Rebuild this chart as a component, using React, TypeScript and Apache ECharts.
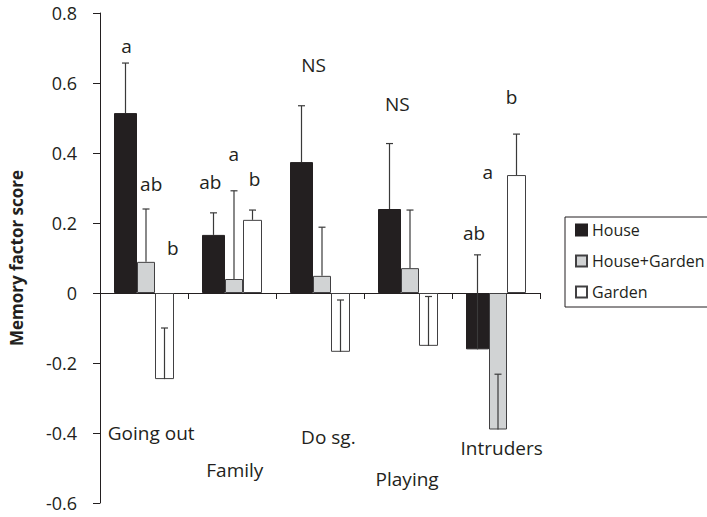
import React, { useEffect, useRef } from "react";
import * as echarts from "echarts";

const categories = ["Going out", "Family", "Do sg.", "Playing", "Intruders"];
const seriesNames = ["House", "House+Garden", "Garden"];
const houseMean = [0.514, 0.166, 0.374, 0.24, -0.161];
const houseGardenMean = [0.089, 0.04, 0.049, 0.071, -0.39];
const gardenMean = [-0.246, 0.209, -0.168, -0.151, 0.337];
const houseSE = [0.143, 0.063, 0.161, 0.187, 0.27];
const houseGardenSE = [0.151, 0.252, 0.139, 0.166, 0.158];
const gardenSE = [0.146, 0.028, 0.148, 0.141, 0.117];

// significance letters: position in category units (0..5) and value units
const sigText = ["a", "ab", "b", "ab", "a", "b", "NS", "NS", "ab", "a", "b"];
const sigX = [0.302, 0.582, 0.828, 1.253, 1.521, 1.756, 2.427, 3.378, 4.25, 4.407, 4.676];
const sigY = [0.705, 0.311, 0.13, 0.317, 0.396, 0.326, 0.651, 0.54, 0.171, 0.345, 0.56];

// category label positions (category units, value units)
const catLabelX = [0.582, 1.532, 2.595, 3.49, 4.564];
const catLabelY = [-0.4, -0.506, -0.411, -0.531, -0.443];

const yTicks = { min: -0.6, max: 0.8, interval: 0.2 };

const FONT = "Open Sans";
const INK = "#231f20";

export default function App() {
  const ref = useRef<HTMLDivElement>(null);
  useEffect(() => {
    if (!ref.current) return;
    const chart = echarts.init(ref.current, undefined, { renderer: "svg" });
    const widths = [23, 18, 19];
    const total = widths.reduce((a, b) => a + b, 0);
    const offsets: number[] = [];
    let acc = -total / 2;
    widths.forEach((w) => {
      offsets.push(acc + w / 2);
      acc += w;
    });
    const means = [houseMean, houseGardenMean, gardenMean];
    const ses = [houseSE, houseGardenSE, gardenSE];
    const fills = [INK, "#d1d3d4", "#ffffff"];
    const borders = [INK, "#414042", "#414042"];

    const barSeries = seriesNames.map((name, i) => ({
      name,
      type: "bar",
      data: means[i],
      barWidth: widths[i],
      barGap: "0%",
      itemStyle: { color: fills[i], borderColor: borders[i], borderWidth: 1 },
      z: 2,
    }));

    const errSeries = seriesNames.map((name, i) => ({
      name: name + " SE",
      type: "custom",
      xAxisIndex: 0,
      yAxisIndex: 0,
      z: 3,
      data: means[i].map((m, k) => [k, m, m + ses[i][k]]),
      renderItem: (params: any, api: any) => {
        const base = api.coord([api.value(0), api.value(1)]);
        const top = api.coord([api.value(0), api.value(2)]);
        const x = base[0] + offsets[i];
        const style = { stroke: "#3a3a3a", lineWidth: 1.2 };
        return {
          type: "group",
          children: [
            { type: "line", shape: { x1: x, y1: base[1], x2: x, y2: top[1] }, style },
            { type: "line", shape: { x1: x - 3.5, y1: top[1], x2: x + 3.5, y2: top[1] }, style },
          ],
        };
      },
    }));

    const textLabel = {
      show: true,
      position: "inside",
      formatter: (p: any) => p.name,
      fontFamily: FONT,
      fontSize: 19,
      color: INK,
      opacity: 1,
    };

    const option = {
      animation: false,
      backgroundColor: "#ffffff",
      textStyle: { fontFamily: FONT, color: INK },
      grid: { left: 93, right: 167, top: 13, bottom: 14, containLabel: false },
      legend: {
        data: seriesNames,
        orient: "vertical",
        left: 565,
        top: 217,
        padding: [3, 4, 5, 10],
        itemGap: 11,
        itemWidth: 11,
        itemHeight: 11,
        icon: "rect",
        borderColor: INK,
        borderWidth: 1,
        textStyle: { fontFamily: FONT, fontSize: 16, color: INK, lineHeight: 20 },
      },
      xAxis: [
        {
          type: "category",
          data: categories,
          boundaryGap: true,
          axisLine: { onZero: true, lineStyle: { color: INK, width: 1 } },
          axisTick: { show: true, length: 6, lineStyle: { color: INK } },
          axisLabel: { show: false },
          splitLine: { show: false },
        },
        { type: "value", min: 0, max: 5, show: false },
      ],
      yAxis: {
        type: "value",
        min: yTicks.min,
        max: yTicks.max,
        interval: yTicks.interval,
        name: "Memory factor score",
        nameLocation: "middle",
        nameRotate: 90,
        nameGap: 75,
        nameTextStyle: { fontFamily: FONT, fontSize: 17, fontWeight: "bold", color: INK },
        axisLine: { show: true, lineStyle: { color: INK, width: 1 } },
        axisTick: { show: true, length: 7, lineStyle: { color: INK } },
        axisLabel: {
          fontFamily: FONT,
          fontSize: 18,
          color: INK,
          margin: 23,
          formatter: (v: number) => String(Math.round(v * 10) / 10),
        },
        splitLine: { show: false },
      },
      series: [
        ...barSeries,
        ...errSeries,
        {
          name: "letters",
          type: "scatter",
          xAxisIndex: 1,
          yAxisIndex: 0,
          symbolSize: 0,
          silent: true,
          z: 4,
          itemStyle: { opacity: 1 },
          data: sigText.map((t, k) => ({ value: [sigX[k], sigY[k]], name: t })),
          label: textLabel,
        },
        {
          name: "categories",
          type: "scatter",
          xAxisIndex: 1,
          yAxisIndex: 0,
          symbolSize: 0,
          silent: true,
          z: 4,
          itemStyle: { opacity: 1 },
          data: categories.map((c, k) => ({ value: [catLabelX[k], catLabelY[k]], name: c })),
          label: textLabel,
        },
      ],
    };
    chart.setOption(option as any);
    return () => chart.dispose();
  }, []);
  return (
    <div
      ref={ref}
      style={{ position: "fixed", left: 0, top: 0, width: 707, height: 517 }}
    />
  );
}
